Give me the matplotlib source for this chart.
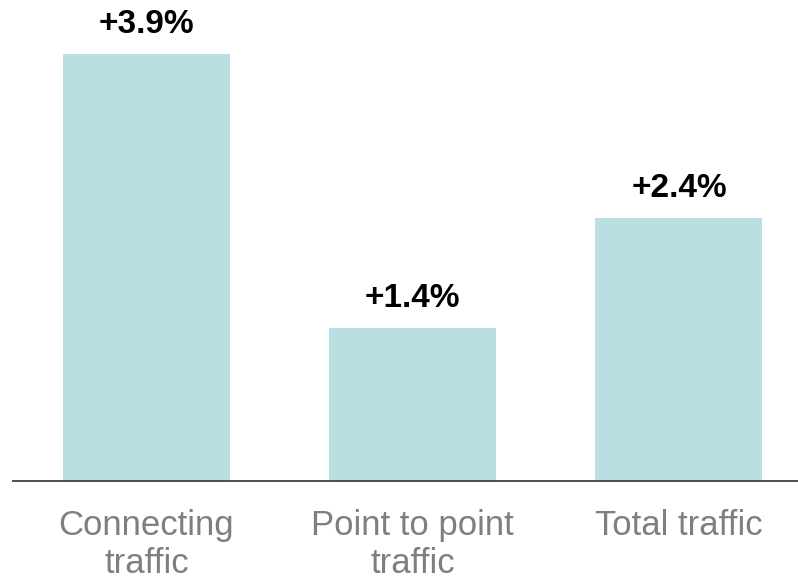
import matplotlib.pyplot as plt
import numpy as np

plt.rcParams['font.family'] = ['Liberation Sans', 'DejaVu Sans']

categories = ['Connecting\ntraffic', 'Point to point\ntraffic', 'Total traffic']
growth = [3.9, 1.4, 2.4]
labels = ['+3.9%', '+1.4%', '+2.4%']

bar_color = '#B9DFE2'

fig = plt.figure(figsize=(7.98, 5.85), dpi=100)
ax = fig.add_axes([13 / 798, 104 / 585, 785 / 798, 481 / 585])

x = np.arange(len(categories))
bars = ax.bar(x, growth, width=0.627, color=bar_color, zorder=2)

for b, lab in zip(bars, labels):
    ax.annotate(lab, (b.get_x() + b.get_width() / 2, b.get_height()),
                xytext=(0, 10), textcoords='offset points',
                ha='center', va='bottom', fontsize=24, fontweight='bold',
                color='black')

ax.set_xlim(-0.501, 2.447)
ax.set_ylim(0, 4.393)

for s in ['top', 'right', 'left']:
    ax.spines[s].set_visible(False)
ax.spines['bottom'].set_color('#404040')
ax.spines['bottom'].set_linewidth(1.3)

ax.set_yticks([])
ax.set_xticks(x)
ax.set_xticklabels(categories, fontsize=25, color='#7F7F7F', linespacing=1.2)
ax.tick_params(axis='x', length=0, pad=20)

fig.savefig('out.png', dpi=100)
